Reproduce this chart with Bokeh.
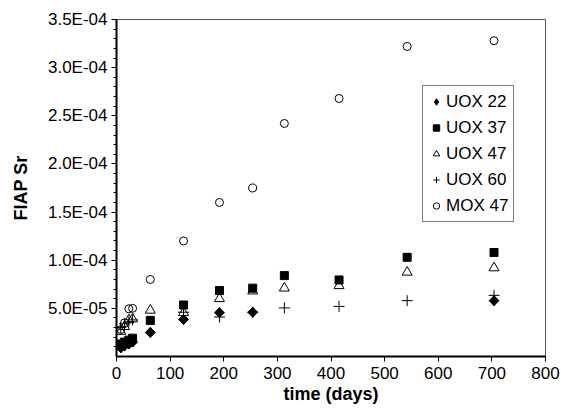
import math
from bokeh.plotting import figure
from bokeh.models import FixedTicker, Legend, LegendItem, Range1d
from bokeh.embed import file_html
from bokeh.resources import INLINE

# ---- data ----
t_uox22 = [8, 15, 23, 30, 63, 125, 192, 254, 704]
v_uox22 = [0.9e-5, 1.1e-5, 1.3e-5, 1.5e-5, 2.5e-5, 3.85e-5, 4.55e-5, 4.6e-5, 5.8e-5]

t_uox37 = [8, 15, 23, 30, 63, 125, 192, 254, 313, 415, 542, 704]
v_uox37 = [1.3e-5, 1.5e-5, 1.7e-5, 1.9e-5, 3.75e-5, 5.35e-5, 6.85e-5, 7.1e-5, 8.4e-5, 7.95e-5, 1.03e-4, 1.08e-4]

t_uox47 = [8, 15, 23, 30, 63, 125, 192, 254, 313, 415, 542, 704]
v_uox47 = [2.6e-5, 3.1e-5, 3.8e-5, 3.9e-5, 4.8e-5, 4.55e-5, 6.0e-5, 6.8e-5, 7.1e-5, 7.35e-5, 8.75e-5, 9.2e-5]

t_uox60 = [8, 15, 23, 30, 125, 192, 254, 313, 415, 542, 704]
v_uox60 = [3.0e-5, 3.4e-5, 3.6e-5, 3.8e-5, 4.6e-5, 4.1e-5, 4.6e-5, 5.05e-5, 5.2e-5, 5.8e-5, 6.35e-5]

t_mox47 = [8, 15, 23, 30, 63, 125, 192, 254, 313, 415, 542, 704]
v_mox47 = [2.8e-5, 3.5e-5, 4.95e-5, 5.0e-5, 8.0e-5, 1.2e-4, 1.6e-4, 1.75e-4, 2.42e-4, 2.68e-4, 3.22e-4, 3.28e-4]

series_names = ["UOX 22", "UOX 37", "UOX 47", "UOX 60", "MOX 47"]

x_ticks = [0, 100, 200, 300, 400, 500, 600, 700, 800]
y_ticks = [5e-5, 1e-4, 1.5e-4, 2e-4, 2.5e-4, 3e-4, 3.5e-4]
y_tick_labels = ["5.0E-05", "1.0E-04", "1.5E-04", "2.0E-04", "2.5E-04", "3.0E-04", "3.5E-04"]
y_minor = [i * 1e-5 for i in range(1, 36)]

FONT = "Liberation Sans"

p = figure(width=561, height=412, output_backend="svg", toolbar_location=None,
           x_range=Range1d(0, 800), y_range=Range1d(0, 3.5e-4),
           min_border_left=116, min_border_right=16, min_border_top=19, min_border_bottom=56)
p.background_fill_color = "white"
p.border_fill_color = "white"
p.outline_line_color = "#555555"
p.outline_line_width = 1
p.xgrid.visible = False
p.ygrid.visible = False

# axes
p.xaxis.ticker = FixedTicker(ticks=x_ticks)
p.yaxis.ticker = FixedTicker(ticks=y_ticks, minor_ticks=y_minor)
p.yaxis.major_label_overrides = {t: l for t, l in zip(y_ticks, y_tick_labels)}
for ax in (p.xaxis, p.yaxis):
    ax.axis_line_color = "black"
    ax.axis_line_width = 2
    ax.major_tick_line_color = "black"
    ax.major_tick_out = 5
    ax.major_tick_in = 0
    ax.major_label_text_font = FONT
    ax.major_label_text_font_size = "17px"
    ax.major_label_text_color = "black"
    ax.axis_label_text_font = FONT
    ax.axis_label_text_font_size = "18px"
    ax.axis_label_text_font_style = "bold"
    ax.axis_label_text_color = "black"
p.xaxis.minor_tick_line_color = None
p.yaxis.minor_tick_line_color = "black"
p.yaxis.minor_tick_out = 3
p.yaxis.minor_tick_in = 0
p.xaxis.axis_label = "time (days)"
p.yaxis.axis_label = "FIAP Sr"
p.xaxis.major_label_standoff = 5
p.yaxis.major_label_standoff = 4
p.xaxis.axis_label_standoff = 2
p.yaxis.axis_label_standoff = 14

# UOX 22: narrow diamond underneath (used for the legend) + rotated square on top
r1_leg = p.scatter(t_uox22, v_uox22, marker="diamond", size=10,
                   fill_color="black", line_color="black")
r1 = p.scatter(t_uox22, v_uox22, marker="square", angle=math.pi / 4, size=7,
               fill_color="black", line_color="black")
r2 = p.scatter(t_uox37, v_uox37, marker="square", size=8,
               fill_color="black", line_color="black")
r3 = p.scatter(t_uox47, v_uox47, marker="triangle", size=10,
               fill_color=None, line_color="black", line_width=1)
r4 = p.scatter(t_uox60, v_uox60, marker="cross", size=11,
               fill_color=None, line_color="black", line_width=1)
r5 = p.scatter(t_mox47, v_mox47, marker="circle", size=8,
               fill_color=None, line_color="black", line_width=1)

legend = Legend(items=[
    LegendItem(label=series_names[0], renderers=[r1_leg]),
    LegendItem(label=series_names[1], renderers=[r2]),
    LegendItem(label=series_names[2], renderers=[r3]),
    LegendItem(label=series_names[3], renderers=[r4]),
    LegendItem(label=series_names[4], renderers=[r5]),
], location=(306, 134))
legend.label_text_font = FONT
legend.label_text_font_size = "17px"
legend.label_text_color = "black"
legend.border_line_color = "black"
legend.border_line_width = 1
legend.background_fill_color = "white"
legend.glyph_width = 16
legend.glyph_height = 21
legend.label_height = 21
legend.label_standoff = 2
legend.spacing = 5
legend.padding = 5
legend.margin = 0
p.add_layout(legend, "center")

open("out.html", "w").write(file_html(p, INLINE))
